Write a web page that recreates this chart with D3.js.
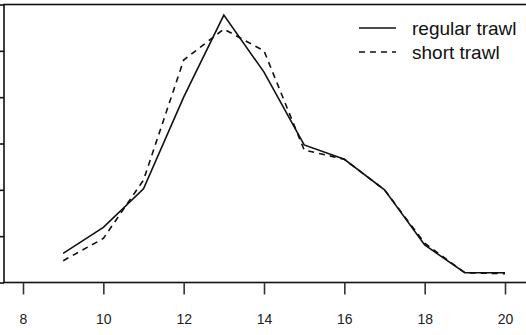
<!DOCTYPE html>
<html>
<head>
<meta charset="utf-8">
<script src="https://cdn.jsdelivr.net/npm/d3@7"></script>
<style>
  html, body { margin: 0; padding: 0; background: #fff; }
  svg { display: block; font-family: "Liberation Sans", Arial, Helvetica, sans-serif; }
</style>
</head>
<body>
<div id="chart"></div>
<script>
// length class (x) and relative catch per trawl type
const lengths = [9, 10, 11, 12, 13, 14, 15, 16, 17, 18, 19, 20];
const regularTrawl = [0.63, 1.19, 2.02, 4.0, 5.77, 4.54, 2.97, 2.66, 2.0, 0.81, 0.21, 0.21];
const shortTrawl = [0.47, 0.95, 2.21, 4.8, 5.47, 5.0, 2.86, 2.66, 2.0, 0.85, 0.21, 0.19];
const xTicks = [8, 10, 12, 14, 16, 18, 20];
const yTicks = [0, 1, 2, 3, 4, 5, 6];
const seriesNames = ['regular trawl', 'short trawl'];

const width = 526, height = 335;
const svg = d3.select('#chart').append('svg')
  .attr('width', width).attr('height', height);

const x = d3.scaleLinear().domain([8, 20]).range([23, 505]);
const y = d3.scaleLinear().domain([0, 6]).range([282.5, 4.5]);

// plot box (right side runs off the picture)
svg.append('rect')
  .attr('x', 4).attr('y', y(6))
  .attr('width', 620).attr('height', y(0) - y(6))
  .attr('fill', 'none').attr('stroke', '#111').attr('stroke-width', 1.6);

// y ticks, labels fall outside the crop
const yAxis = svg.append('g').attr('transform', 'translate(4,0)')
  .call(d3.axisLeft(y).tickValues(yTicks).tickSize(5).tickFormat(''));
yAxis.select('.domain').remove();
yAxis.selectAll('line').attr('stroke', '#111').attr('stroke-width', 1.6);

const xAxis = svg.append('g').attr('transform', `translate(0,${y(0)})`)
  .call(d3.axisBottom(x).tickValues(xTicks).tickSize(12).tickPadding(20).tickFormat(d3.format('d')));
xAxis.select('.domain').remove();
xAxis.selectAll('line').attr('stroke', '#333').attr('stroke-width', 1.6);
xAxis.selectAll('text').attr('fill', '#222').style('font-size', '14px')
  .style('font-family', '"Liberation Sans", Arial, sans-serif');

const line = d3.line().x((d, i) => x(lengths[i])).y(d => y(d));

svg.append('path').datum(shortTrawl)
  .attr('d', line).attr('fill', 'none')
  .attr('stroke', '#111').attr('stroke-width', 1.6)
  .attr('stroke-dasharray', '6,5');

svg.append('path').datum(regularTrawl)
  .attr('d', line).attr('fill', 'none')
  .attr('stroke', '#111').attr('stroke-width', 1.6);

// legend
const legend = svg.append('g');
seriesNames.forEach((name, i) => {
  const ly = 28 + i * 24;
  legend.append('line')
    .attr('x1', 359).attr('x2', 396).attr('y1', ly).attr('y2', ly)
    .attr('stroke', '#111').attr('stroke-width', 1.6)
    .attr('stroke-dasharray', i === 1 ? '6,5' : null);
  legend.append('text')
    .attr('x', 412).attr('y', ly).attr('dy', '0.35em')
    .style('font-size', '19px').attr('fill', '#111')
    .text(name);
});
</script>
</body>
</html>
